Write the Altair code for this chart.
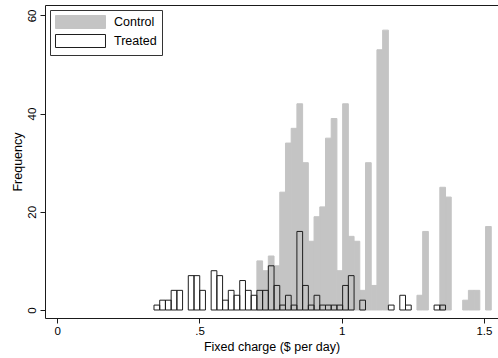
import altair as alt
import pandas as pd

# Histogram bins shared by both groups
bin_start = 0.34
bin_width = 0.0201

# Frequency per bin (59 bins), control group
control_counts = [
    0, 0, 0, 0, 0, 0, 0, 0, 0, 0,
    0, 0, 0, 0, 0, 0, 0, 0, 10, 8,
    11, 9, 24, 34, 37, 42, 30, 14, 19, 21,
    35, 39, 8, 42, 15, 14, 4, 30, 5, 53,
    57, 0, 0, 0, 0, 0, 3, 16, 0, 0,
    25, 23, 0, 0, 2, 4, 4, 0, 17,
]

# Frequency per bin (59 bins), treated group
treated_counts = [
    1, 2, 2, 4, 4, 0, 7, 7, 4, 0,
    8, 7, 2, 4, 3, 6, 4, 3, 4, 4,
    9, 5, 1, 3, 1, 16, 5, 1, 3, 1,
    1, 1, 1, 5, 7, 0, 2, 0, 0, 0,
    0, 1, 0, 3, 1, 0, 0, 0, 0, 1,
    1, 0, 0, 0, 0, 0, 0, 0, 0,
]

groups = ["Control", "Treated"]
fill_colors = ["#c4c4c4", "rgba(255,255,255,0)"]
stroke_colors = ["#c4c4c4", "#1e1e1e"]

x_ticks = [0, 0.5, 1, 1.5]
y_ticks = [0, 20, 40, 60]

rows = []
for group, counts in zip(groups, [control_counts, treated_counts]):
    for k, n in enumerate(counts):
        if n > 0:
            lo = bin_start + k * bin_width
            rows.append({"group": group, "lo": lo, "hi": lo + bin_width, "count": n})
df = pd.DataFrame(rows)

font = "Liberation Sans"
x_scale = alt.Scale(domain=[-0.04325, 1.5496], nice=False, zero=False)
y_scale = alt.Scale(domain=[-1.63, 62.12], nice=False, zero=False)

bars = alt.Chart(df).mark_rect(strokeWidth=1).encode(
    x=alt.X(
        "lo:Q",
        scale=x_scale,
        axis=alt.Axis(
            values=x_ticks,
            labelExpr="replace(format(datum.value, '.1~f'), /^0\\./, '.')",
            title="Fixed charge ($ per day)",
            grid=False,
            tickSize=5,
            labelPadding=2,
            titlePadding=4,
        ),
    ),
    x2="hi:Q",
    y=alt.Y(
        "count:Q",
        scale=y_scale,
        axis=alt.Axis(
            values=y_ticks,
            title="Frequency",
            grid=False,
            tickSize=5,
            labelAngle=270,
            labelAlign="center",
            labelBaseline="bottom",
            labelPadding=3,
            titlePadding=2,
        ),
    ),
    y2=alt.datum(0),
    fill=alt.Fill(
        "group:N",
        scale=alt.Scale(domain=groups, range=fill_colors),
        legend=alt.Legend(
            title=None,
            orient="none",
            legendX=5,
            legendY=5,
            symbolType="M-1,-1H6.692V1H-1Z",
            symbolSize=169,
            symbolStrokeWidth=1,
            labelOffset=45,
            labelFontSize=12.5,
            labelFont=font,
            labelColor="#000000",
            fillColor="#ffffff",
            strokeColor="#333333",
            padding=5,
            rowPadding=1,
        ),
    ),
    stroke=alt.Stroke(
        "group:N",
        scale=alt.Scale(domain=groups, range=stroke_colors),
        legend=None,
    ),
)

# Top frame line of the plot region
frame = alt.Chart(df).mark_rect(opacity=0).encode(
    x=alt.X(
        "lo:Q",
        scale=x_scale,
        axis=alt.Axis(orient="top", labels=False, ticks=False, title=None, grid=False),
    ),
)

chart = (
    alt.layer(bars, frame)
    .resolve_axis(x="independent")
    .properties(
        width=453,
        height=313,
        padding={"left": 45, "top": 5, "right": 0, "bottom": 40},
        autosize=alt.AutoSizeParams(type="none"),
    )
    .configure_view(stroke=None)
    .configure_axis(
        domainColor="#1a1a1a",
        domainWidth=1,
        tickColor="#1a1a1a",
        labelFont=font,
        labelFontSize=11.5,
        labelColor="#000000",
        titleFont=font,
        titleFontSize=12.5,
        titleFontWeight="normal",
        titleColor="#000000",
    )
)

chart.save("out.html", embed_options={"renderer": "svg", "actions": False})
